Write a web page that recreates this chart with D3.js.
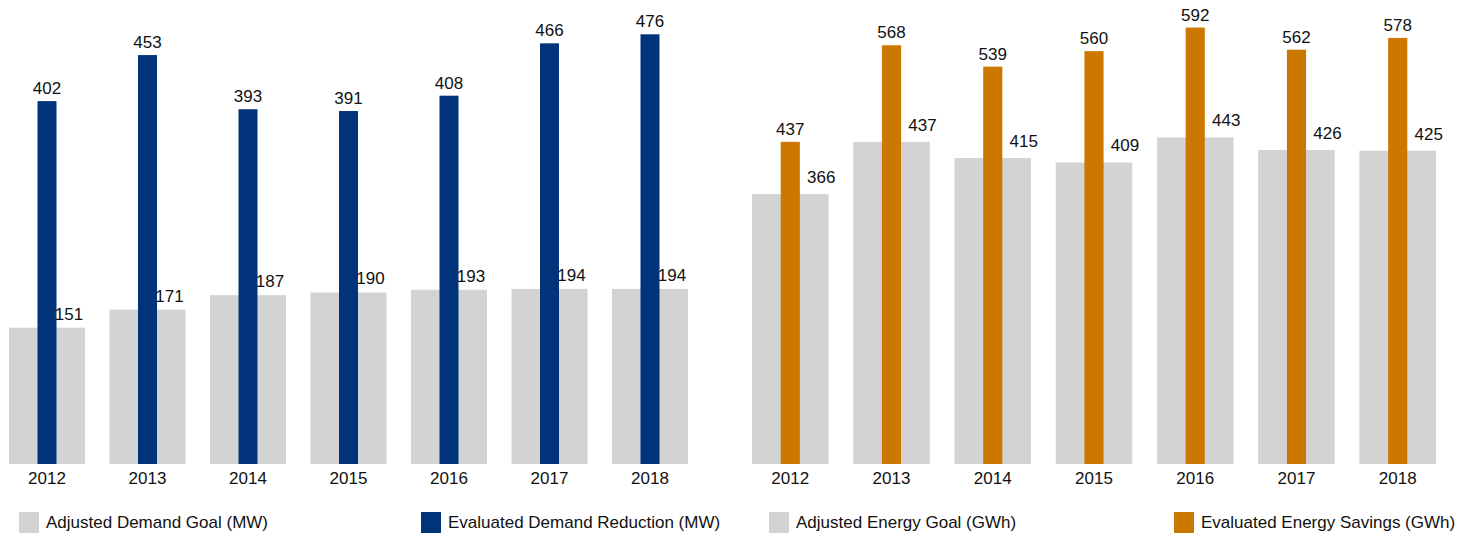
<!DOCTYPE html>
<html>
<head>
<meta charset="utf-8">
<script src="https://cdn.jsdelivr.net/npm/d3@7"></script>
<style>
  html, body { margin: 0; padding: 0; background: #fff; }
  svg { display: block; font-family: "Liberation Sans", Arial, sans-serif; }
</style>
</head>
<body>
<svg id="chart" width="1477" height="536"></svg>
<script>
// Program years shared by both panels
const years = ["2012", "2013", "2014", "2015", "2016", "2017", "2018"];

// Demand panel (MW)
const demandGoal = [151, 171, 187, 190, 193, 194, 194];
const demandReduction = [402, 453, 393, 391, 408, 466, 476];

// Energy panel (GWh)
const energyGoal = [366, 437, 415, 409, 443, 426, 425];
const energySavings = [437, 568, 539, 560, 592, 562, 578];

// Legend labels
const demandLegend = ["Adjusted Demand Goal (MW)", "Evaluated Demand Reduction (MW)"];
const energyLegend = ["Adjusted Energy Goal (GWh)", "Evaluated Energy Savings (GWh)"];

const GRAY = "#d3d3d3";
const BLUE = "#00337a";
const ORANGE = "#cc7700";
const TEXT = "#111";
const FONT = 17;

const svg = d3.select("#chart");
const baseline = 464;

function panel(cfg) {
  const x = d3.scaleBand()
    .domain(years)
    .range([cfg.x0, cfg.x1])
    .paddingInner(0.2438)
    .paddingOuter(0);
  const y = d3.scaleLinear().domain([0, cfg.yMax]).range([baseline, 0]);
  const g = svg.append("g");
  const bw = x.bandwidth();
  const nw = bw * 0.25;

  const rows = years.map((yr, i) => ({ yr, goal: cfg.goal[i], actual: cfg.actual[i] }));

  // wide goal bars
  g.selectAll("rect.goal").data(rows).join("rect")
    .attr("class", "goal")
    .attr("x", d => x(d.yr))
    .attr("width", bw)
    .attr("y", d => y(d.goal))
    .attr("height", d => baseline - y(d.goal))
    .attr("fill", GRAY);

  // narrow achieved bars, centred on each goal bar
  g.selectAll("rect.actual").data(rows).join("rect")
    .attr("class", "actual")
    .attr("x", d => x(d.yr) + (bw - nw) / 2)
    .attr("width", nw)
    .attr("y", d => y(d.actual))
    .attr("height", d => baseline - y(d.actual))
    .attr("fill", cfg.color);

  // value labels
  g.selectAll("text.actual").data(rows).join("text")
    .attr("x", d => x(d.yr) + bw / 2)
    .attr("y", d => y(d.actual) - 7)
    .attr("text-anchor", "middle")
    .attr("font-size", FONT)
    .attr("fill", TEXT)
    .text(d => d.actual);

  g.selectAll("text.goal").data(rows).join("text")
    .attr("x", d => x(d.yr) + bw / 2 + cfg.goalDx)
    .attr("y", d => y(d.goal) - cfg.goalDy)
    .attr("text-anchor", "middle")
    .attr("font-size", FONT)
    .attr("fill", TEXT)
    .text(d => d.goal);

  // category axis without line or ticks
  const axis = g.append("g")
    .attr("transform", `translate(0,${baseline})`)
    .call(d3.axisBottom(x).tickSize(0).tickPadding(8));
  axis.select(".domain").remove();
  axis.selectAll("text")
    .attr("font-size", FONT)
    .attr("font-family", "Liberation Sans, Arial, sans-serif")
    .attr("fill", TEXT)
    .attr("dy", "0.71em");

  // legend
  const leg = svg.append("g");
  cfg.legend.forEach((label, i) => {
    const lx = cfg.legendX[i];
    leg.append("rect")
      .attr("x", lx).attr("y", 512)
      .attr("width", 20).attr("height", 21)
      .attr("fill", i === 0 ? GRAY : cfg.color);
    leg.append("text")
      .attr("x", lx + 27).attr("y", 528)
      .attr("font-size", FONT)
      .attr("fill", TEXT)
      .text(label);
  });
}

panel({
  x0: 9, x1: 688, yMax: 514,
  goal: demandGoal, actual: demandReduction, color: BLUE,
  goalDx: 22, goalDy: 8,
  legend: demandLegend, legendX: [19, 421]
});

panel({
  x0: 752, x1: 1436, yMax: 629.4,
  goal: energyGoal, actual: energySavings, color: ORANGE,
  goalDx: 31, goalDy: 11,
  legend: energyLegend, legendX: [769, 1174]
});
</script>
</body>
</html>
